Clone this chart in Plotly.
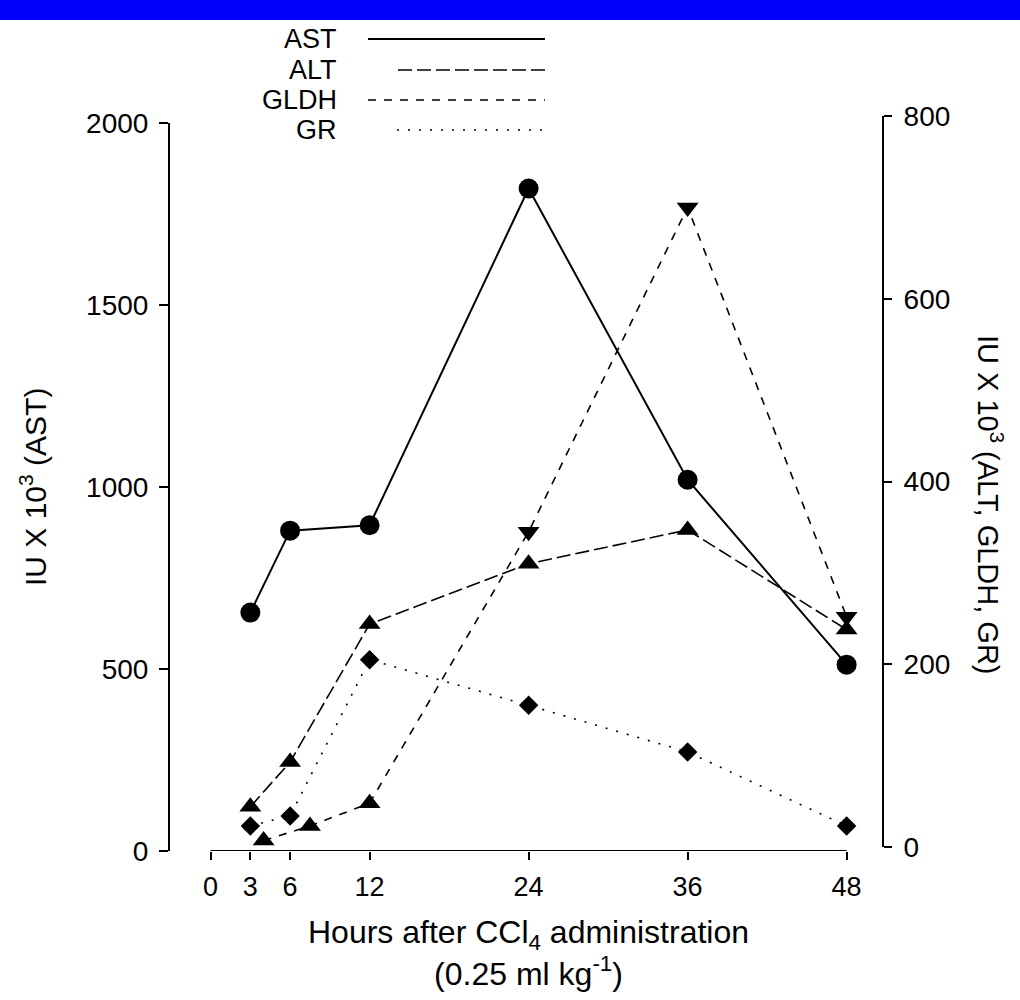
import plotly.graph_objects as go

# ---------------- data ----------------
hours = [3, 6, 12, 24, 36, 48]
ast = [655, 880, 895, 1820, 1020, 512]          # left axis
alt = [44, 93, 244, 310, 347, 238]               # right axis
gldh_hours = [4, 7.5, 12, 24, 36, 48]
gldh = [7, 23, 48, 345, 700, 252]                # right axis
gldh_symbols = ["triangle-up", "triangle-up", "triangle-up",
                "triangle-down", "triangle-down", "triangle-down"]
gr = [23, 34, 205, 155, 104, 23]                 # right axis

x_ticks = [0, 3, 6, 12, 24, 36, 48]
left_ticks = [0, 500, 1000, 1500, 2000]
right_ticks = [0, 200, 400, 600, 800]

legend_names = ["AST", "ALT", "GLDH", "GR"]
legend_dash = ["solid", "14px,5px", "8px,8px", "2px,9px"]

# ---------------- layout geometry (pixels) ----------------
W, H = 1020, 1000
L, R, T, B = 170, 882, 116, 851
LEFT_TOP = 123      # pixel of 2000 on left axis
RIGHT_BOTTOM = 847  # pixel of 0 on right axis
X0_PX, X48_PX = 210.6, 846.6
pph = (X48_PX - X0_PX) / 48.0
x_range = [-(X0_PX - L) / pph, 48 + (R - X48_PX) / pph]


def px(xp):
    return (xp - L) / (R - L)


def py(yp):
    return (B - yp) / (B - T)


FONT = "Liberation Sans, Arial, sans-serif"
BLACK = "#000000"

fig = go.Figure()

fig.add_trace(go.Scatter(
    x=hours, y=ast, name="AST", mode="lines+markers", yaxis="y",
    line=dict(color=BLACK, width=2, dash="solid"),
    marker=dict(symbol="circle", size=20, color=BLACK),
    cliponaxis=False, showlegend=False))

fig.add_trace(go.Scatter(
    x=hours, y=alt, name="ALT", mode="lines+markers", yaxis="y2",
    line=dict(color=BLACK, width=1.6, dash=legend_dash[1]),
    marker=dict(symbol="triangle-up", size=19, color=BLACK),
    cliponaxis=False, showlegend=False))

fig.add_trace(go.Scatter(
    x=gldh_hours, y=gldh, name="GLDH", mode="lines+markers", yaxis="y2",
    line=dict(color=BLACK, width=1.6, dash=legend_dash[2]),
    marker=dict(symbol=gldh_symbols, size=19, color=BLACK),
    cliponaxis=False, showlegend=False))

fig.add_trace(go.Scatter(
    x=hours, y=gr, name="GR", mode="lines+markers", yaxis="y2",
    line=dict(color=BLACK, width=1.6, dash=legend_dash[3]),
    marker=dict(symbol="diamond", size=15, color=BLACK),
    cliponaxis=False, showlegend=False))

shapes = []
annotations = []

# blue band at the very top
shapes.append(dict(type="rect", xref="paper", yref="paper",
                   x0=px(0), x1=px(W), y0=py(0), y1=py(20),
                   fillcolor="#0000FF", line=dict(width=0), layer="above"))

# x axis line spanning only the tick range
shapes.append(dict(type="line", xref="x", yref="y",
                   x0=x_ticks[0], x1=x_ticks[-1], y0=0, y1=0,
                   line=dict(color=BLACK, width=2)))

# custom legend (text on the left, line sample on the right)
leg_y = [39, 70, 100, 130]
leg_x0 = [368, 398, 368, 397]
for name, dash, yy, x0 in zip(legend_names, legend_dash, leg_y, leg_x0):
    annotations.append(dict(xref="paper", yref="paper", x=px(338), y=py(yy),
                            xanchor="right", yanchor="middle", showarrow=False,
                            borderpad=0,
                            text=name, font=dict(family=FONT, size=27, color=BLACK)))
    shapes.append(dict(type="line", xref="paper", yref="paper",
                       x0=px(x0), x1=px(545), y0=py(yy), y1=py(yy),
                       line=dict(color=BLACK, width=2 if dash == "solid" else 1.6,
                                 dash=dash)))

# axis titles
annotations.append(dict(xref="paper", yref="paper", x=px(33), y=py(487),
                        xanchor="center", yanchor="middle", showarrow=False,
                        textangle=-90, text="IU X 10<sup>3</sup> (AST)",
                        font=dict(family=FONT, size=30, color=BLACK)))
annotations.append(dict(xref="paper", yref="paper", x=px(990), y=py(505),
                        xanchor="center", yanchor="middle", showarrow=False,
                        textangle=90, text="IU X 10<sup>3</sup> (ALT, GLDH, GR)",
                        font=dict(family=FONT, size=29, color=BLACK)))
annotations.append(dict(xref="paper", yref="paper", x=px(528), y=py(953),
                        xanchor="center", yanchor="middle", showarrow=False,
                        text="Hours after CCl<sub>4</sub> administration<br>(0.25 ml kg<sup>-1</sup>)",
                        font=dict(family=FONT, size=32, color=BLACK)))

fig.update_layout(
    width=W, height=H,
    margin=dict(l=L, r=W - R, t=T, b=H - B, pad=0),
    paper_bgcolor="white", plot_bgcolor="rgba(0,0,0,0)",
    showlegend=False,
    xaxis=dict(range=x_range, tickmode="array", tickvals=x_ticks,
               ticktext=[str(v) for v in x_ticks],
               showline=False, showgrid=False, zeroline=False,
               ticks="outside", ticklen=8, tickwidth=2, tickcolor=BLACK,
               ticklabelstandoff=4,
               tickfont=dict(family=FONT, size=27, color=BLACK),
               anchor="y", fixedrange=True),
    yaxis=dict(range=[0, 2000], domain=[0, py(LEFT_TOP)],
               tickmode="array", tickvals=left_ticks,
               showline=True, linecolor=BLACK, linewidth=2,
               showgrid=False, zeroline=False,
               ticks="outside", ticklen=9, tickwidth=2, tickcolor=BLACK,
               ticklabelstandoff=5,
               tickfont=dict(family=FONT, size=28, color=BLACK),
               anchor="x", side="left"),
    yaxis2=dict(range=[0, 800], domain=[py(RIGHT_BOTTOM), 1],
                tickmode="array", tickvals=right_ticks,
                showline=True, linecolor=BLACK, linewidth=2,
                showgrid=False, zeroline=False,
                ticks="outside", ticklen=8, tickwidth=2, tickcolor=BLACK,
                ticklabelstandoff=6,
                tickfont=dict(family=FONT, size=28, color=BLACK),
                anchor="x", side="right"),
    shapes=shapes,
    annotations=annotations,
)

fig.write_html("out.html",
               config={"displayModeBar": False, "staticPlot": True},
               post_script="document.body.style.margin='0px';document.body.style.overflow='hidden';")
